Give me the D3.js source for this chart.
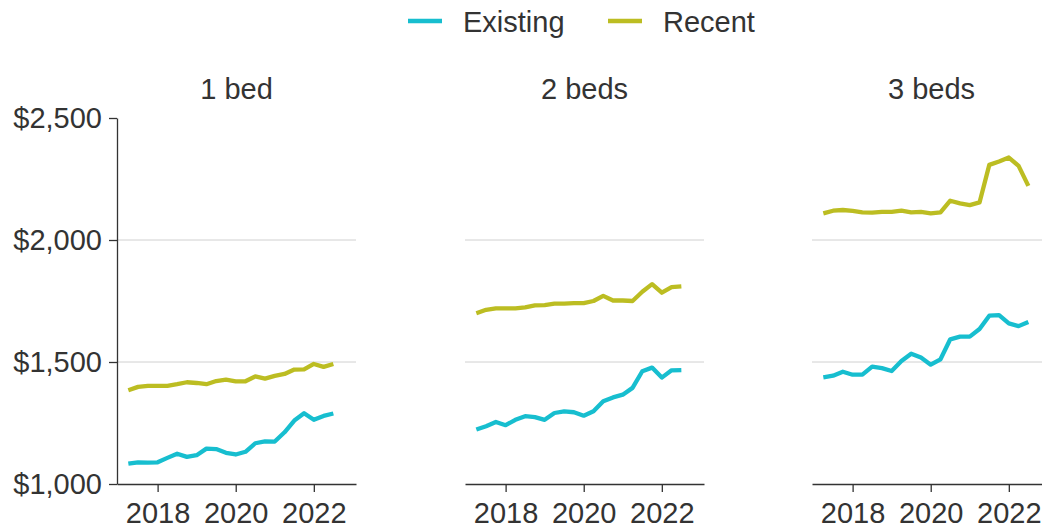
<!DOCTYPE html>
<html>
<head>
<meta charset="utf-8">
<script src="https://cdn.jsdelivr.net/npm/d3@7"></script>
<style>
  html, body { margin: 0; padding: 0; background: #fff; }
  svg { display: block; font-family: "Liberation Sans", Arial, Helvetica, sans-serif; }
</style>
</head>
<body>
<svg id="chart" width="1042" height="531"></svg>
<script>
// Quarterly median rents by unit size
const quarters = ["2017Q2","2017Q3","2017Q4","2018Q1","2018Q2","2018Q3","2018Q4","2019Q1",
                  "2019Q2","2019Q3","2019Q4","2020Q1","2020Q2","2020Q3","2020Q4","2021Q1",
                  "2021Q2","2021Q3","2021Q4","2022Q1","2022Q2","2022Q3"];
const facets = ["1 bed", "2 beds", "3 beds"];
const seriesNames = ["Existing", "Recent"];
const seriesColors = ["#17becf", "#bcbd22"];

const existing1 = [1083,1089,1088,1089,1107,1124,1111,1118,1145,1143,1128,1121,1132,1167,1175,1174,1212,1260,1290,1263,1279,1289];
const recent1   = [1384,1398,1402,1402,1402,1409,1417,1414,1409,1422,1428,1421,1421,1441,1432,1443,1451,1469,1470,1492,1480,1492];
const existing2 = [1223,1237,1254,1241,1263,1278,1274,1263,1291,1298,1294,1280,1298,1339,1355,1366,1394,1462,1477,1436,1466,1467];
const recent2   = [1700,1714,1720,1720,1720,1724,1732,1733,1739,1739,1741,1741,1750,1771,1752,1752,1750,1788,1819,1784,1807,1810];
const existing3 = [1437,1444,1460,1448,1448,1481,1475,1463,1504,1534,1518,1489,1511,1593,1604,1604,1635,1690,1692,1658,1647,1664];
const recent3   = [2109,2120,2123,2119,2113,2112,2115,2115,2120,2113,2115,2109,2113,2161,2150,2143,2154,2308,2322,2338,2304,2222];

const yTicks = [1000, 1500, 2000, 2500];
const xTicks = [2018, 2020, 2022];

const panelData = [
  [existing1, recent1],
  [existing2, recent2],
  [existing3, recent3]
];

const toYear = q => +q.slice(0, 4) + (+q.slice(5) - 1) / 4;

const svg = d3.select("#chart");
const textColor = "#333333";
const fontSize = 29;

const panelLeft = [117, 465, 812];
const panelWidth = 239;
const plotTop = 118, plotBottom = 484;

const y = d3.scaleLinear().domain([1000, 2500]).range([plotBottom, plotTop]);
const fmt = d => "$" + d3.format(",")(d);

// Legend
const legendItems = [
  { name: seriesNames[0], color: seriesColors[0], x: 408 },
  { name: seriesNames[1], color: seriesColors[1], x: 608 }
];
const legend = svg.append("g");
legendItems.forEach(it => {
  legend.append("line")
    .attr("x1", it.x).attr("x2", it.x + 34)
    .attr("y1", 21).attr("y2", 21)
    .attr("stroke", it.color).attr("stroke-width", 4.5);
  legend.append("text")
    .attr("x", it.x + 55).attr("y", 32)
    .attr("fill", textColor)
    .attr("font-size", fontSize)
    .text(it.name);
});

facets.forEach((name, i) => {
  const x0 = panelLeft[i];
  const g = svg.append("g").attr("transform", `translate(${x0},0)`);
  const x = d3.scaleLinear().domain([2016.96, 2023.08]).range([0, panelWidth]);

  // horizontal gridlines
  g.selectAll("line.grid")
    .data(yTicks.filter(t => t !== 1000 && t !== 2500))
    .join("line")
    .attr("class", "grid")
    .attr("x1", 0).attr("x2", panelWidth)
    .attr("y1", d => y(d)).attr("y2", d => y(d))
    .attr("stroke", "#d0d0d0").attr("stroke-width", 1);

  // facet title
  g.append("text")
    .attr("x", panelWidth / 2).attr("y", 99)
    .attr("text-anchor", "middle")
    .attr("fill", textColor)
    .attr("font-size", fontSize)
    .text(name);

  // x axis
  const xAxis = g.append("g")
    .attr("transform", `translate(0,${plotBottom})`)
    .call(d3.axisBottom(x).tickValues(xTicks).tickFormat(d3.format("d"))
      .tickSize(8).tickSizeOuter(0).tickPadding(10));
  xAxis.select(".domain").attr("stroke", textColor).attr("stroke-width", 1.3);
  xAxis.selectAll(".tick line").attr("stroke", textColor).attr("stroke-width", 1.3);
  xAxis.selectAll(".tick text")
    .attr("fill", textColor).attr("font-size", fontSize)
    .attr("font-family", "Liberation Sans, Arial, sans-serif");

  // y axis on first panel only
  if (i === 0) {
    const yAxis = g.append("g")
      .call(d3.axisLeft(y).tickValues(yTicks).tickFormat(fmt)
        .tickSize(8).tickSizeOuter(0).tickPadding(7));
    yAxis.select(".domain").attr("stroke", textColor).attr("stroke-width", 1.3);
    yAxis.selectAll(".tick line").attr("stroke", textColor).attr("stroke-width", 1.3);
    yAxis.selectAll(".tick text")
      .attr("fill", textColor).attr("font-size", fontSize)
      .attr("font-family", "Liberation Sans, Arial, sans-serif");
  }

  // series lines
  const line = d3.line()
    .x((d, j) => x(toYear(quarters[j])))
    .y(d => y(d));
  panelData[i].forEach((vals, s) => {
    g.append("path")
      .datum(vals)
      .attr("d", line)
      .attr("fill", "none")
      .attr("stroke", seriesColors[s])
      .attr("stroke-width", 4.3)
      .attr("stroke-linejoin", "round");
  });
});
</script>
</body>
</html>
